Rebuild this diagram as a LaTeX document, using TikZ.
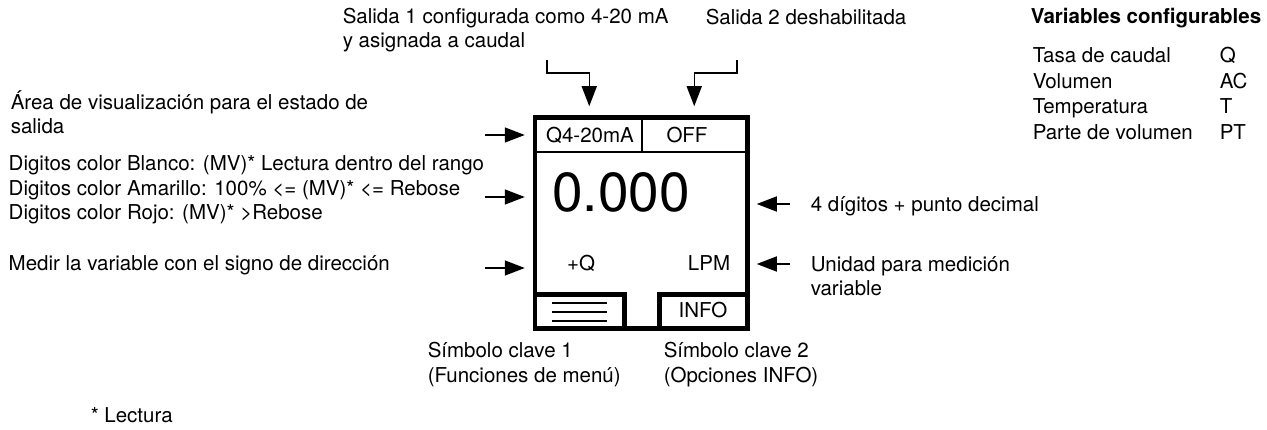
\documentclass[tikz,border=0pt]{standalone}
\usepackage{fontspec}
\setmainfont{TeX Gyre Heros}
\usetikzlibrary{arrows.meta}

\begin{document}
\begin{tikzpicture}[x=1pt, y=-1pt, line width=1.5pt,
    txt/.style={anchor=base west, inner sep=0pt, align=left, font=\fontsize{20.5}{24.5}\selectfont},
    dsp/.style={anchor=base, inner sep=0pt, font=\fontsize{20.5}{24.5}\selectfont},
    pointer/.style={-{Triangle[length=20pt, width=15pt]}},
    thickbox/.style={line width=4.5pt}]
  \useasboundingbox (0,0) rectangle (1267,430);

  % display
  \node[draw, thickbox, minimum width=212.5pt, minimum height=211pt, inner sep=0pt] (disp) at (641.25,223) {};
  \draw[line width=2pt] (535,152) -- (747.5,152);
  \draw[line width=2pt] (642,117.5) -- (642,152);
  \draw[thickbox] (535,294.5) rectangle (624.5,328.5);
  \draw[thickbox] (659.5,294.5) rectangle (747.5,328.5);
  \foreach \y in {303,312,321}
    \draw[line width=1.2pt] (552,\y) -- (607,\y);

  \node[dsp] (out1) at (590,143) {Q4-20mA};
  \node[dsp] (out2) at (687,143) {OFF};
  \node[dsp, font=\fontsize{55}{60}\selectfont] (value) at (621,212) {0.000};
  \node[dsp] (sign) at (581,271) {+Q};
  \node[dsp] (unit) at (709,271) {LPM};
  \node[dsp] (info) at (703,318) {INFO};

  % labels (base = last line)
  \node[txt] (lblout1) at (342,48) {Salida 1 configurada como 4-20 mA\\y asignada a caudal};
  \node[txt] (lblout2) at (705,25) {Salida 2 deshabilitada};
  \node[txt] (lblarea) at (10,134) {Área de visualización para el estado de\\salida};
  \node[txt] (lblcolor) at (8,220) {Digitos color Blanco: (MV)* Lectura dentro del rango\\Digitos color Amarillo: 100\% <= (MV)* <= Rebose\\Digitos color Rojo: (MV)* >Rebose};
  \node[txt] (lblsign) at (8,271) {Medir la variable con el signo de dirección};
  \node[txt] (lbldigits) at (810,212) {4 dígitos + punto decimal};
  \node[txt] (lblunit) at (810,296) {Unidad para medición\\variable};
  \node[txt] (lblkey1) at (427,382) {Símbolo clave 1\\(Funciones de menú)};
  \node[txt] (lblkey2) at (663,382) {Símbolo clave 2\\(Opciones INFO)};
  \node[txt] (note) at (90,422) {* Lectura};

  % table
  \node[txt, font=\fontsize{20.5}{24.5}\selectfont\bfseries] (vartitle) at (1030,24) {Variables configurables};
  \foreach \name/\sym [count=\i] in {Tasa de caudal/Q, Volumen/AC, Temperatura/T, Parte de volumen/PT} {
    \node[txt] (var\i) at (1032,37.5+25.5*\i) {\name};
    \node[txt] (sym\i) at (1219,37.5+25.5*\i) {\sym};
  }

  % arrows
  \coordinate (s1) at (547,60);
  \coordinate (s2) at (737,60);
  \draw[pointer, shorten >=9pt] (s1) -- ++(0,13) -| ([xshift=-52pt]disp.north);
  \draw[pointer, shorten >=9pt] (s2) -- ++(0,13) -| ([xshift=53pt]disp.north);
  \foreach \y [count=\i] in {135,197,268} {
    \coordinate (l\i) at (485,\y);
    \draw[pointer, shorten >=8pt] (l\i) -- (l\i -| disp.west);
  }
  \foreach \y [count=\i] in {204,264} {
    \coordinate (r\i) at (790,\y);
    \draw[pointer, shorten >=7pt] (r\i) -- (r\i -| disp.east);
  }
\end{tikzpicture}
\end{document}
